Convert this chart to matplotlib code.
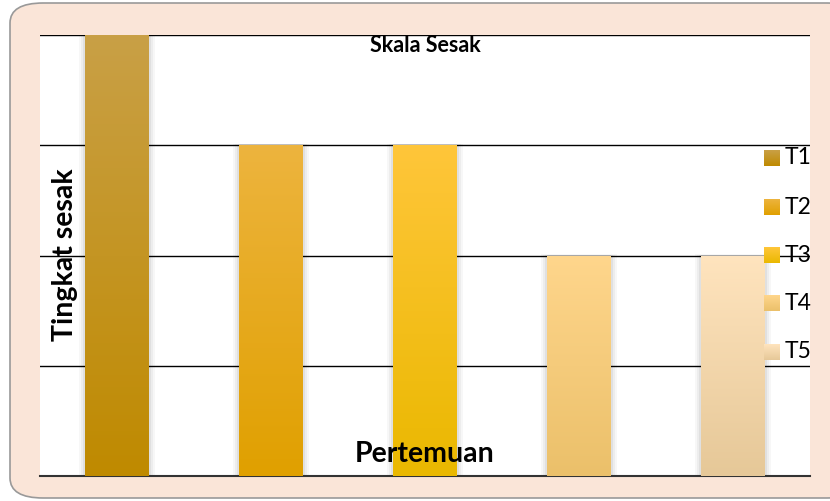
import numpy as np
import matplotlib.pyplot as plt
from matplotlib.patches import FancyBboxPatch, Rectangle
from matplotlib.colors import LinearSegmentedColormap

# data
series = ["T1", "T2", "T3", "T4", "T5"]
values = [4, 3, 3, 2, 2]
top_colors = ["#C9A046", "#EDB43E", "#FFC63A", "#FFD68C", "#FFE4BE"]
bottom_colors = ["#BF8A00", "#E0A000", "#EAB800", "#EBC06A", "#E6C898"]

plt.rcParams['font.family'] = ['Lato', 'DejaVu Sans']

fig = plt.figure(figsize=(8.3, 5.01), dpi=100)
fig.patch.set_facecolor("white")

# peach rounded panel behind the chart
W, H = 830, 501
panel = FancyBboxPatch((10 / W, 3 / H), 850 / W, 495 / H,
                       boxstyle="round,pad=0,rounding_size=0.04",
                       transform=fig.transFigure, facecolor="#FAE5D8",
                       edgecolor="#999999", linewidth=1.2, zorder=-5)
fig.patches.append(panel)

ax = fig.add_axes([40 / W, (H - 476) / H, 770 / W, 441 / H])
ax.set_zorder(1)
ax.set_facecolor("white")

x = np.arange(len(series))
bars = ax.bar(x, values, width=0.41, color="none", zorder=3)

grad = np.linspace(0, 1, 256).reshape(-1, 1)
for i, b in enumerate(bars):
    cmap = LinearSegmentedColormap.from_list("g%d" % i, [bottom_colors[i], top_colors[i]])
    # soft shadow
    for k, a in zip([0.04, 0.028, 0.016, 0.006], [0.03, 0.04, 0.05, 0.07]):
        ax.add_patch(Rectangle((b.get_x() - k, 0), b.get_width() + 2 * k, b.get_height() + k * 0.25,
                               facecolor="black", alpha=a, linewidth=0, zorder=2))
    im = ax.imshow(grad, cmap=cmap, aspect="auto", origin="lower",
                   extent=(b.get_x(), b.get_x() + b.get_width(), 0, b.get_height()), zorder=3)
    im.set_clip_path(b)

ax.set_xlim(-0.5, 4.5)
ax.set_ylim(0, 4)
ax.set_yticks([0, 1, 2, 3, 4])
ax.yaxis.grid(True, color="black", linewidth=1.0, zorder=1)
ax.set_axisbelow(True)
ax.set_xticks([])
ax.tick_params(left=False, labelleft=False)
for s in ["left", "right", "top"]:
    ax.spines[s].set_visible(False)
ax.spines["bottom"].set_color("#333333")
ax.spines["bottom"].set_linewidth(1.5)

fig.text(425 / W, 1 - 46 / H, "Skala Sesak", ha="center", va="center",
         fontsize=15.5, fontweight="bold", zorder=5)
fig.text(425 / W, 1 - 454 / H, "Pertemuan", ha="center", va="center",
         fontsize=20.5, fontweight="bold", zorder=5)
fig.text(65 / W, 1 - 255 / H, "Tingkat sesak", rotation=90, ha="center", va="center",
         fontsize=20.5, fontweight="bold", zorder=5)

# legend drawn by hand on the right
leg_y = [158, 207, 255, 303, 352]
for i, name in enumerate(series):
    yy = 1 - leg_y[i] / H
    cmap = LinearSegmentedColormap.from_list("l%d" % i, [bottom_colors[i], top_colors[i]])
    lax = fig.add_axes([764 / W, yy - 8 / H, 16 / W, 16 / H])
    lax.set_zorder(6)
    lax.imshow(grad, cmap=cmap, aspect="auto", origin="lower")
    lax.axis("off")
    fig.text(785 / W, yy, name, ha="left", va="center", fontsize=16.5, zorder=6)

fig.savefig("out.png", dpi=100)
